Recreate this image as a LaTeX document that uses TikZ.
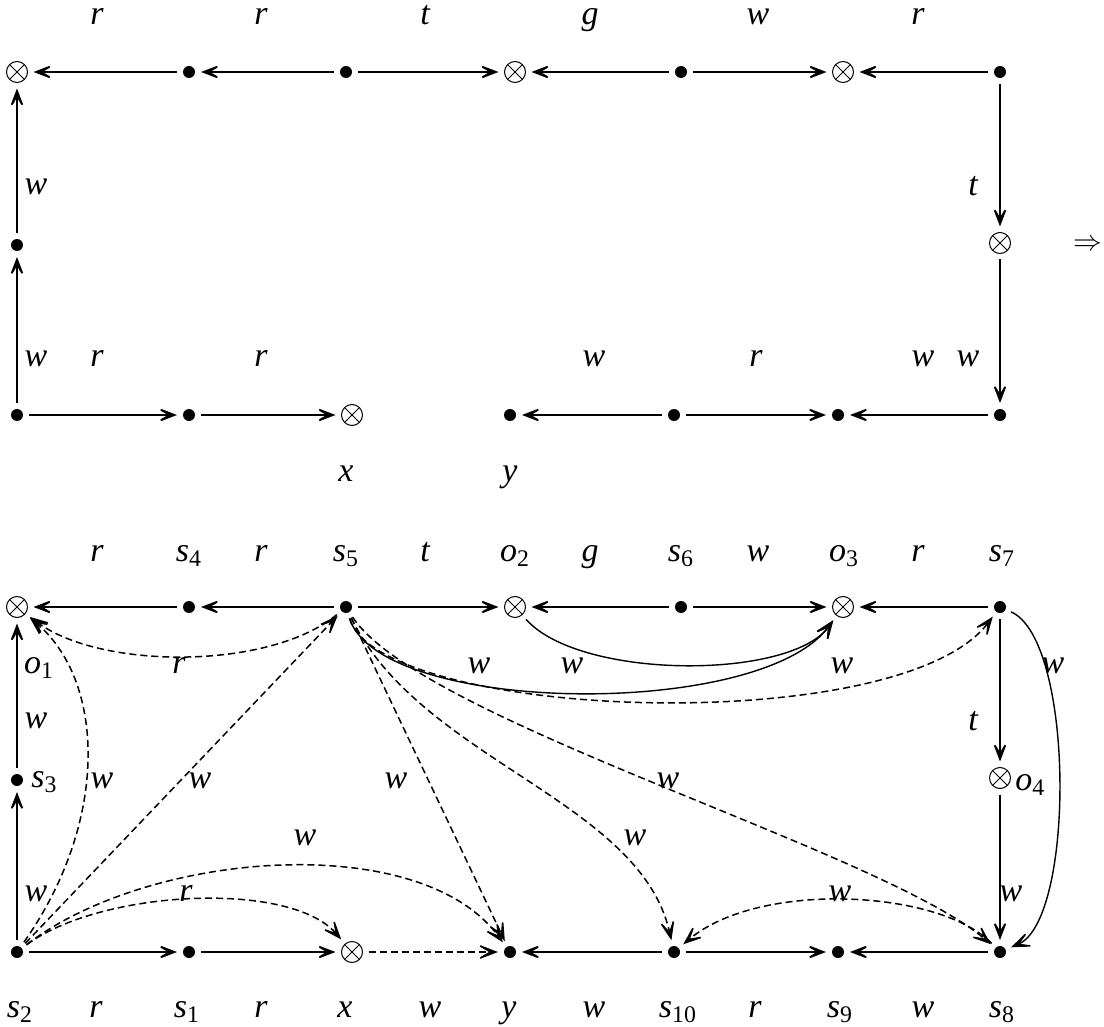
\documentclass[tikz,border=0pt]{standalone}
\usepackage{fontspec}
\setmainfont{Liberation Serif}
\usetikzlibrary{arrows.meta}
\newcommand\subs[1]{\textsubscript{\upshape #1}}
\begin{document}
\begin{tikzpicture}[x=0.5pt,y=-0.5pt,
 dotn/.style={circle,fill=black,inner sep=0pt,minimum size=6pt,outer sep=3pt},
 otn/.style={circle,draw,line width=0.5pt,inner sep=0pt,minimum size=10.5pt,outer sep=3pt,
   path picture={\draw[line width=0.5pt] (path picture bounding box.north west)--(path picture bounding box.south east)
     (path picture bounding box.south west)--(path picture bounding box.north east);}},
 lbl/.style={anchor=base,inner sep=0pt,font=\fontsize{17}{20}\selectfont\itshape},
 lblw/.style={lbl,anchor=base west},
 ar/.style={line width=0.9pt,-{Stealth[length=13pt,width=10pt,inset=8.5pt]}},
 cv/.style={ar,line width=0.7pt},
 da/.style={ar,line width=0.75pt,dash pattern=on 3.5pt off 2pt},
]
\useasboundingbox (0,0) rectangle (1104,1027);

% ---------------- top diagram ----------------
\node[otn]  (a1)  at (17,72) {};
\node[dotn] (a2)  at (189,72) {};
\node[dotn] (a3)  at (346,72) {};
\node[otn]  (a4)  at (515,72) {};
\node[dotn] (a5)  at (681,72) {};
\node[otn]  (a6)  at (843,72) {};
\node[dotn] (a7)  at (1000,72) {};
\node[dotn] (a8)  at (17,245) {};
\node[dotn] (a9)  at (17,415) {};
\node[dotn] (a10) at (189,415) {};
\node[otn]  (a11) at (352,415) {};
\node[dotn] (a12) at (510,415) {};
\node[dotn] (a13) at (674,415) {};
\node[dotn] (a14) at (838,415) {};
\node[dotn] (a15) at (1000,415) {};
\node[otn]  (a16) at (1000,243) {};

\draw[ar] (a2)--(a1);
\draw[ar] (a3)--(a2);
\draw[ar] (a3)--(a4);
\draw[ar] (a5)--(a4);
\draw[ar] (a5)--(a6);
\draw[ar] (a7)--(a6);
\draw[ar] (a8)--(a1);
\draw[ar] (a9)--(a8);
\draw[ar] (a9)--(a10);
\draw[ar] (a10)--(a11);
\draw[ar] (a13)--(a12);
\draw[ar] (a13)--(a14);
\draw[ar] (a15)--(a14);
\draw[ar] (a7)--(a16);
\draw[ar] (a16)--(a15);

\node[lbl] (ta1) at (97,25) {r};
\node[lbl] (ta2) at (261,25) {r};
\node[lbl] (ta3) at (425,25) {t};
\node[lbl] (ta4) at (590,25) {g};
\node[lbl] (ta5) at (758,25) {w};
\node[lbl] (ta6) at (918,25) {r};
\node[lbl] (ta7) at (36,195) {w};
\node[lbl] (ta8) at (36,367) {w};
\node[lbl] (ta9) at (97,367) {r};
\node[lbl] (ta10) at (261,367) {r};
\node[lbl] (ta11) at (594,367) {w};
\node[lbl] (ta12) at (756,367) {r};
\node[lbl] (ta13) at (923,367) {w};
\node[lbl] (ta14) at (968,367) {w};
\node[lbl] (ta15) at (973,196) {t};
\node[lbl] (ta16) at (346,481) {x};
\node[lbl] (ta17) at (510,481) {y};

\node[inner sep=0pt,font=\fontsize{15}{17}\selectfont] (imp) at (1088,245) {$\Rightarrow$};

% ---------------- bottom diagram ----------------
\node[otn]  (o1)  at (17,607) {};
\node[dotn] (s4)  at (189,607) {};
\node[dotn] (s5)  at (346,607) {};
\node[otn]  (o2)  at (515,607) {};
\node[dotn] (s6)  at (681,607) {};
\node[otn]  (o3)  at (843,607) {};
\node[dotn] (s7)  at (1000,607) {};
\node[dotn] (s3)  at (17,780) {};
\node[dotn] (s2)  at (17,952) {};
\node[dotn] (s1)  at (189,952) {};
\node[otn]  (xx)  at (352,952) {};
\node[dotn] (yy)  at (510,952) {};
\node[dotn] (s10) at (674,952) {};
\node[dotn] (s9)  at (838,952) {};
\node[dotn] (s8)  at (1000,952) {};
\node[otn]  (o4)  at (1000,778) {};

\draw[ar] (s4)--(o1);
\draw[ar] (s5)--(s4);
\draw[ar] (s5)--(o2);
\draw[ar] (s6)--(o2);
\draw[ar] (s6)--(o3);
\draw[ar] (s7)--(o3);
\draw[ar] (s3)--(o1);
\draw[ar] (s2)--(s3);
\draw[ar] (s2)--(s1);
\draw[ar] (s1)--(xx);
\draw[ar] (s10)--(yy);
\draw[ar] (s10)--(s9);
\draw[ar] (s8)--(s9);
\draw[ar] (s7)--(o4);
\draw[ar] (o4)--(s8);

% curved and dashed edges
\draw[cv] (o2) .. controls (580,680) and (790,680) .. (o3);
\draw[cv] (s5) .. controls (380,715) and (760,720) .. (o3);
\draw[cv] (s7) .. controls (1075,640) and (1075,920) .. (s8);
\draw[da] (s5) .. controls (380,720) and (900,740) .. (s7);
\draw[da] (s5) .. controls (420,720) and (880,850) .. (s8);
\draw[da] (s5) .. controls (420,760) and (640,800) .. (s10);
\draw[da] (s5) -- (yy);
\draw[da] (s2) -- (s5);
\draw[da] (s5) .. controls (270,670) and (100,670) .. (o1);
\draw[da] (s2) .. controls (110,820) and (105,680) .. (o1);
\draw[da] (s2) .. controls (150,850) and (420,830) .. (yy);
\draw[da] (s2) .. controls (100,890) and (290,880) .. (xx);
\draw[da] (xx) -- (yy);
\draw[da] (s8) .. controls (940,890) and (760,880) .. (s10);

% labels, top row
\node[lbl] (b1) at (97,561) {r};
\node[lbl] (b2) at (189,561) {s\subs{4}};
\node[lbl] (b3) at (261,561) {r};
\node[lbl] (b4) at (346,561) {s\subs{5}};
\node[lbl] (b5) at (425,561) {t};
\node[lbl] (b6) at (515,561) {o\subs{2}};
\node[lbl] (b7) at (590,561) {g};
\node[lbl] (b8) at (681,561) {s\subs{6}};
\node[lbl] (b9) at (758,561) {w};
\node[lbl] (b10) at (844,561) {o\subs{3}};
\node[lbl] (b11) at (918,561) {r};
\node[lbl] (b12) at (1002,561) {s\subs{7}};
% labels, middle
\node[lbl] (c1) at (39,673) {o\subs{1}};
\node[lbl] (c2) at (36,728) {w};
\node[lblw] (c3) at (31,787) {s\subs{3}};
\node[lbl] (c4) at (36,901) {w};
\node[lbl] (c5) at (102,788) {w};
\node[lbl] (c6) at (200,788) {w};
\node[lbl] (c7) at (396,788) {w};
\node[lbl] (c8) at (179,673) {r};
\node[lbl] (c9) at (479,673) {w};
\node[lbl] (c10) at (572,673) {w};
\node[lbl] (c11) at (842,673) {w};
\node[lbl] (c12) at (1053,673) {w};
\node[lbl] (c13) at (973,730) {t};
\node[lblw] (c14) at (1015,790) {o\subs{4}};
\node[lbl] (c15) at (668,788) {w};
\node[lbl] (c16) at (305,845) {w};
\node[lbl] (c17) at (635,845) {w};
\node[lbl] (c18) at (186,901) {r};
\node[lbl] (c19) at (840,901) {w};
\node[lbl] (c20) at (1011,901) {w};
% labels, bottom row
\node[lbl] (d1) at (20,1017) {s\subs{2}};
\node[lbl] (d2) at (96,1017) {r};
\node[lbl] (d3) at (187,1017) {s\subs{1}};
\node[lbl] (d4) at (261,1017) {r};
\node[lbl] (d5) at (345,1017) {x};
\node[lbl] (d6) at (430,1017) {w};
\node[lbl] (d7) at (509,1017) {y};
\node[lbl] (d8) at (594,1017) {w};
\node[lbl] (d9) at (678,1017) {s\subs{10}};
\node[lbl] (d10) at (755,1017) {r};
\node[lbl] (d11) at (840,1017) {s\subs{9}};
\node[lbl] (d12) at (923,1017) {w};
\node[lbl] (d13) at (1002,1017) {s\subs{8}};
\end{tikzpicture}
\end{document}
